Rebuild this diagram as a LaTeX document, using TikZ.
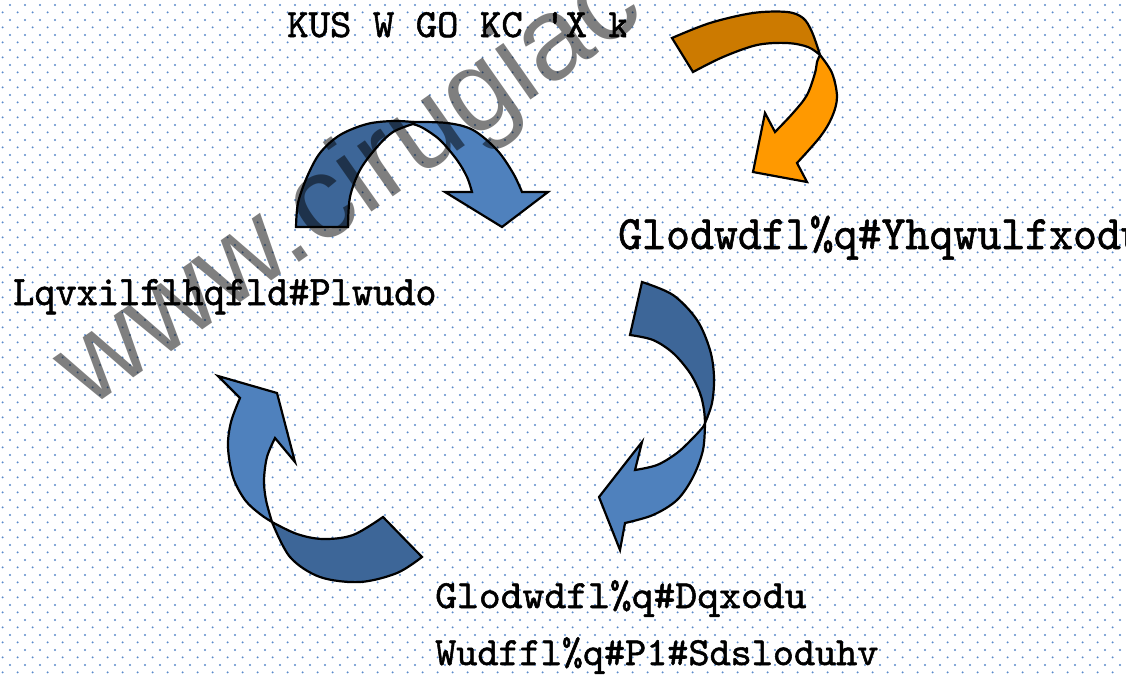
\documentclass[tikz,border=0pt]{standalone}
\usepackage{fontspec}
\newfontfamily\wmfont{Liberation Sans}
\newfontfamily\lblfont[FakeBold=1.3]{lmmono10-regular.otf}
\usetikzlibrary{patterns}
\definecolor{bluelight}{HTML}{4F81BD}
\definecolor{bluedark}{HTML}{3D6698}
\definecolor{orlight}{HTML}{FF9900}
\definecolor{ordark}{HTML}{CC7A00}
\definecolor{dotblue}{HTML}{5A8ACB}
\pgfdeclarepatternformonly{stagdots}{\pgfqpoint{0pt}{0pt}}{\pgfqpoint{15.33pt}{15.33pt}}{\pgfqpoint{15.33pt}{15.33pt}}{%
\pgfpathcircle{\pgfqpoint{3.8pt}{3.8pt}}{1.15pt}%
\pgfpathcircle{\pgfqpoint{11.47pt}{11.47pt}}{1.15pt}%
\pgfusepath{fill}}
\begin{document}
\begin{tikzpicture}[x=1pt,y=-1pt,
  arr/.style={draw=black,line width=2.2pt,line join=miter},
  lbl/.style={inner sep=0pt,anchor=base west},
  sm/.style={smooth,tension=0.55}]
\useasboundingbox (0,0) rectangle (1126,675);
\clip (0,0) rectangle (1126,675);
\fill[white] (0,0) rectangle (1126,675);
\fill[pattern=stagdots,pattern color=dotblue] (0,0) rectangle (1126,675);

% ---- arrow 1 (top left) ----
\filldraw[arr,fill=bluedark] (348,227) -- (296,227)
  -- plot[sm] coordinates {(296,227) (298,203) (307,177) (320,153) (340,135) (367,124) (393,121) (413,122)}
  -- plot[sm] coordinates {(413,124) (393,132) (377,147) (360,170) (350,197) (348,227)} -- cycle;
\filldraw[arr,fill=bluelight] (413,122)
  -- plot[sm] coordinates {(413,122) (447,123) (473,130) (497,150) (513,173) (522,192)}
  -- (548,192) -- (502,227) -- (445,192) -- (472,192)
  -- plot[sm] coordinates {(472,192) (467,177) (457,160) (440,140) (423,128) (413,124)} -- cycle;

% ---- arrow 2 (right) ----
\filldraw[arr,fill=bluedark] (630,335) -- (642,282)
  -- plot[sm] coordinates {(642,282) (673,295) (697,320) (710,350) (714,377) (712,403) (705,423)}
  -- plot[sm] coordinates {(705,423) (704,410) (700,393) (690,373) (673,353) (653,340) (630,335)} -- cycle;
\filldraw[arr,fill=bluelight] (705,423)
  -- plot[sm] coordinates {(705,423) (703,450) (693,477) (677,500) (653,515) (625,523)}
  -- (620,550) -- (599,497) -- (642,442) -- (635,470)
  -- plot[sm] coordinates {(635,470) (657,465) (677,453) (693,438) (703,427) (705,423)} -- cycle;

% ---- arrow 3 (bottom left) ----
\filldraw[arr,fill=bluelight] (218,376) -- (277,393) -- (295,462) -- (275,438)
  -- plot[sm] coordinates {(275,438) (267,457) (264,480) (266,500) (272,522)}
  -- plot[sm] coordinates {(272,522) (260,514) (245,500) (233,477) (228,447) (231,422) (240,398)} -- cycle;
\filldraw[arr,fill=bluedark] (272,522)
  -- plot[sm] coordinates {(272,522) (297,534) (323,539) (353,535) (383,517)}
  -- (422,557)
  -- plot[sm] coordinates {(422,557) (397,573) (360,582) (320,577) (290,557) (272,522)} -- cycle;

% ---- arrow 4 (orange, top right) ----
\filldraw[arr,fill=ordark] (693,72) -- (672,38)
  -- plot[sm] coordinates {(672,38) (710,23) (753,13) (787,12) (803,18) (812,32) (820,55)}
  -- plot[sm] coordinates {(820,55) (808,47) (787,43) (757,45) (723,57) (693,72)} -- cycle;
\filldraw[arr,fill=orlight] (820,55)
  -- plot[sm] coordinates {(820,55) (832,73) (837,97) (832,117) (820,137) (797,163)}
  -- (807,182) -- (753,172) -- (765,113) -- (775,132)
  -- plot[sm] coordinates {(775,132) (793,113) (807,95) (815,73) (817,62) (820,55)} -- cycle;

% ---- labels ----
\begin{scope}
\clip (0,0) rectangle (626,60);
\node[lbl,font=\lblfont\fontsize{40}{40}\selectfont] (ttop) at (287,37) {\scalebox{1.02}[1]{KUS W GO KC \textquotesingle X k}};
\end{scope}
\node[lbl,font=\lblfont\fontsize{48}{48}\selectfont] (tright) at (618,249) {\scalebox{0.95}[1]{Glodwdfl\%q\#Yhqwulfxodu}};
\node[lbl,font=\lblfont\fontsize{42}{42}\selectfont] (tleft) at (13,305) {\scalebox{0.96}[1]{Lqvxilflhqfld\#Plwudo}};
\node[lbl,font=\lblfont\fontsize{40}{40}\selectfont] (tbot1) at (435,608) {\scalebox{1.04}[1]{Glodwdfl\%q\#Dqxodu}};
\node[lbl,font=\lblfont\fontsize{40}{40}\selectfont] (tbot2) at (435,665) {\scalebox{1.005}[1]{Wudffl\%q\#P1\#Sdsloduhv}};

% ---- watermark ----
\node[inner sep=0pt,anchor=base west,rotate=35,text=black,text opacity=0.5,font=\wmfont\fontsize{117}{117}\selectfont] (wm) at (88,410) {www.cirugiac};
\end{tikzpicture}
\end{document}
